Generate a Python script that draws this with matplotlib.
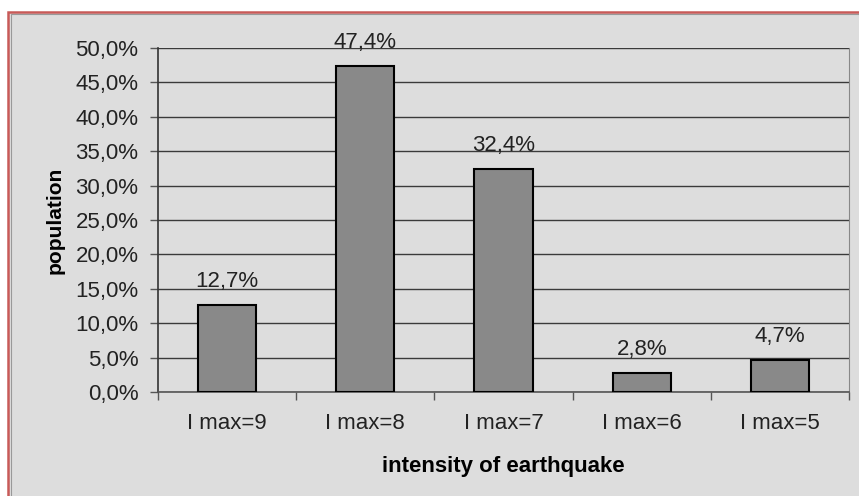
import matplotlib
matplotlib.use("Agg")
import matplotlib.pyplot as plt
from matplotlib.patches import Rectangle
from matplotlib.ticker import FuncFormatter, FixedLocator

categories = ["I max=9", "I max=8", "I max=7", "I max=6", "I max=5"]
values = [12.7, 47.4, 32.4, 2.8, 4.7]
value_labels = ["12,7%", "47,4%", "32,4%", "2,8%", "4,7%"]
yticks = [0, 5, 10, 15, 20, 25, 30, 35, 40, 45, 50]

plt.rcParams['font.family'] = ['Liberation Sans', 'DejaVu Sans']

W, H = 859, 496
fig = plt.figure(figsize=(W/100, H/100), dpi=100)
fig.patch.set_facecolor('white')
bg = '#dddddd'
# outer chart frame
fig.add_artist(Rectangle((8/W, -0.05), (W-8)/W + 0.05, (H-12)/H + 0.05, transform=fig.transFigure,
                         facecolor=bg, edgecolor='#c85a58', linewidth=1.8, zorder=0))
fig.add_artist(Rectangle((10.5/W, -0.05), (W-12)/W + 0.05, (H-14.5)/H + 0.05, transform=fig.transFigure,
                         facecolor='none', edgecolor='#999999', linewidth=0.8, zorder=0))

ax = fig.add_axes([158/W, 1-392/H, (849-158)/W, (392-48)/H])
ax.set_facecolor(bg)
x = list(range(len(categories)))
ax.bar(x, values, width=0.42, color='#898989', edgecolor='black', linewidth=1.5, zorder=3)
for xi, v, lab in zip(x, values, value_labels):
    ax.text(xi, v + 1.9, lab, ha='center', va='bottom', fontsize=16, color='#222222')

ax.set_xlim(-0.5, len(categories)-0.5)
ax.set_ylim(0, 50)
ax.yaxis.set_major_locator(FixedLocator(yticks))
ax.yaxis.set_major_formatter(FuncFormatter(lambda v, p: f"{v:.1f}%".replace('.', ',')))
ax.grid(axis='y', color='#3a3a3a', linewidth=1.0, zorder=1)
ax.set_xticks(x)
ax.set_xticklabels(categories)
ax.set_xticks([i + 0.5 for i in range(-1, len(categories))], minor=True)
ax.tick_params(axis='x', which='major', length=0, pad=15, labelsize=16, labelcolor='#222222')
ax.tick_params(axis='x', which='minor', length=6, width=1, color='#555555')
ax.tick_params(axis='y', length=6, width=1, color='#555555', pad=8, labelsize=16, labelcolor='#222222')

ax.spines['top'].set_visible(False)
ax.spines['right'].set_color('#888888')
ax.spines['left'].set_color('#333333')
ax.spines['bottom'].set_color('#555555')
ax.spines['left'].set_linewidth(1.2)
ax.spines['bottom'].set_linewidth(1.2)

ax.set_xlabel('intensity of earthquake', fontsize=16, fontweight='bold', labelpad=16)
ax.set_ylabel('population', fontsize=15, fontweight='bold', labelpad=8)

fig.savefig('out.png', dpi=100, facecolor=fig.get_facecolor())
